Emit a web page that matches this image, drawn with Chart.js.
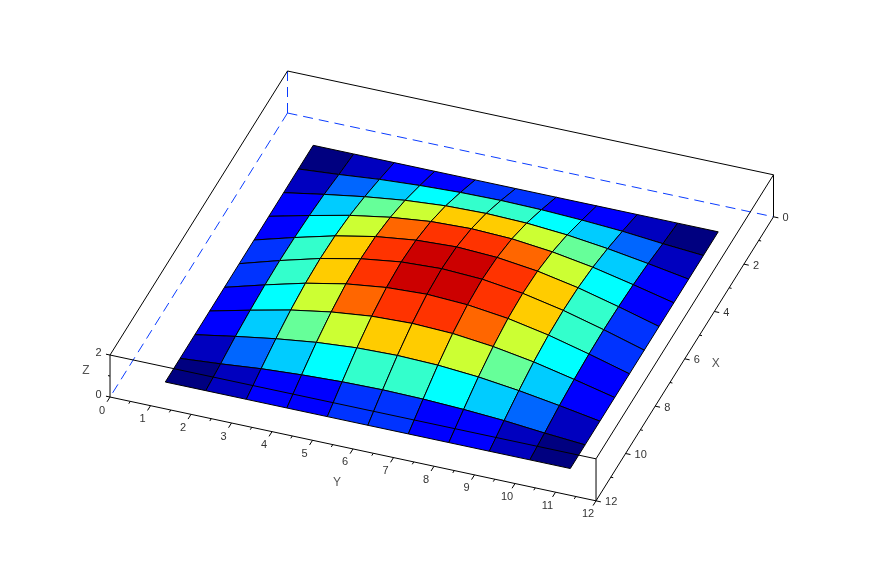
<!DOCTYPE html>
<html>
<head>
<meta charset="utf-8">
<style>
  html, body { margin: 0; padding: 0; background: #fff; }
  canvas { display: block; }
</style>
</head>
<body>
<canvas id="surface" width="884" height="572"></canvas>

<script src="https://cdn.jsdelivr.net/npm/chart.js"></script>

<script>
  // axis ticks and node positions, in data units
  const xMajorTicks = [0, 2, 4, 6, 8, 10, 12];
  const xMinorTicks = [1, 3, 5, 7, 9, 11];
  const yMajorTicks = [0, 1, 2, 3, 4, 5, 6, 7, 8, 9, 10, 11, 12];
  const yMinorTicks = [0.5, 1.5, 2.5, 3.5, 4.5, 5.5, 6.5, 7.5, 8.5, 9.5, 10.5, 11.5];
  const zMajorTicks = [0, 2];
  const zMinorTicks = [1];
  const xNodes = [1, 2, 3, 4, 5, 6, 7, 8, 9, 10, 11];
  const yNodes = [1, 2, 3, 4, 5, 6, 7, 8, 9, 10, 11];

  // surface height at each node, rows follow xNodes, columns follow yNodes
  const zValues = [
    [0, 0, 0, 0, 0, 0, 0, 0, 0, 0, 0],
    [0, 0.15, 0.33, 0.45, 0.53, 0.56, 0.53, 0.45, 0.33, 0.15, 0],
    [0, 0.33, 0.63, 0.87, 1.02, 1.07, 1.02, 0.87, 0.63, 0.33, 0],
    [0, 0.45, 0.87, 1.19, 1.40, 1.47, 1.40, 1.19, 0.87, 0.45, 0],
    [0, 0.53, 1.02, 1.40, 1.64, 1.73, 1.64, 1.40, 1.02, 0.53, 0],
    [0, 0.56, 1.07, 1.47, 1.73, 1.82, 1.73, 1.47, 1.07, 0.56, 0],
    [0, 0.53, 1.02, 1.40, 1.64, 1.73, 1.64, 1.40, 1.02, 0.53, 0],
    [0, 0.45, 0.87, 1.19, 1.40, 1.47, 1.40, 1.19, 0.87, 0.45, 0],
    [0, 0.33, 0.63, 0.87, 1.02, 1.07, 1.02, 0.87, 0.63, 0.33, 0],
    [0, 0.15, 0.33, 0.45, 0.53, 0.56, 0.53, 0.45, 0.33, 0.15, 0],
    [0, 0, 0, 0, 0, 0, 0, 0, 0, 0, 0]
  ];

  // colour step of each facet
  const cellLevels = [
    [0, 1, 2, 2, 3, 3, 2, 2, 1, 0],
    [1, 4, 5, 6, 7, 7, 6, 5, 4, 1],
    [2, 5, 8, 9, 10, 10, 9, 8, 5, 2],
    [2, 6, 9, 11, 12, 12, 11, 9, 6, 2],
    [3, 7, 10, 12, 13, 13, 12, 10, 7, 3],
    [3, 7, 10, 12, 13, 13, 12, 10, 7, 3],
    [2, 6, 9, 11, 12, 12, 11, 9, 6, 2],
    [2, 5, 8, 9, 10, 10, 9, 8, 5, 2],
    [1, 4, 5, 6, 7, 7, 6, 5, 4, 1],
    [0, 1, 2, 2, 3, 3, 2, 2, 1, 0]
  ];

  const palette = ['#000080', '#0000bf', '#0000ff', '#0033ff', '#0066ff', '#00ccff', '#00ffff',
    '#33ffcc', '#66ff99', '#ccff33', '#ffcc00', '#ff6600', '#ff3300', '#cc0000'];

  // fixed camera: the box is drawn as a parallel projection
  const view = { ox: 287.5, oy: 113, xx: -14.79, xy: 23.67, yx: 40.5, yy: 8.65, zy: -21 };

  function project(x, y, z) {
    return {
      x: view.ox + x * view.xx + y * view.yx,
      y: view.oy + x * view.xy + y * view.yy + z * view.zy
    };
  }

  function path(points, color, width, dash) {
    return {
      data: points.map(p => project(p[0], p[1], p[2])),
      borderColor: color,
      borderWidth: width,
      borderDash: dash || [],
      pointRadius: 0,
      showLine: true,
      fill: false,
      clip: false
    };
  }

  function build_datasets() {
    const sets = [];

    // hidden box edges
    const blue = '#0a3cff';
    sets.push(path([[0, 0, 2], [0, 0, 0]], blue, 1, [10, 6]));
    sets.push(path([[0, 0, 0], [12, 0, 0]], blue, 1, [10, 6]));
    sets.push(path([[0, 0, 0], [0, 12, 0]], blue, 1, [10, 6]));

    // facets, back to front
    for (let i = 0; i < xNodes.length - 1; i++) {
      for (let j = 0; j < yNodes.length - 1; j++) {
        const corners = [
          [xNodes[i], yNodes[j], zValues[i][j]],
          [xNodes[i], yNodes[j + 1], zValues[i][j + 1]],
          [xNodes[i + 1], yNodes[j + 1], zValues[i + 1][j + 1]],
          [xNodes[i + 1], yNodes[j], zValues[i + 1][j]],
          [xNodes[i], yNodes[j], zValues[i][j]]
        ];
        const cell = path(corners, '#000', 1);
        cell.backgroundColor = palette[cellLevels[i][j]];
        cell.fill = 'shape';
        sets.push(cell);
      }
    }

    // box outline
    sets.push(path([[12, 0, 0], [12, 0, 2], [0, 0, 2], [0, 12, 2], [12, 12, 2], [12, 0, 2]], '#000', 1));
    sets.push(path([[12, 0, 0], [12, 12, 0], [0, 12, 0], [0, 12, 2]], '#000', 1));
    sets.push(path([[12, 12, 0], [12, 12, 2]], '#000', 1));

    // tick marks
    yMajorTicks.forEach(y => sets.push(path([[12, y, 0], [12.2, y, 0]], '#000', 1)));
    yMinorTicks.forEach(y => sets.push(path([[12, y, 0], [12.1, y, 0]], '#000', 1)));
    xMajorTicks.forEach(x => sets.push(path([[x, 12, 0], [x, 12.12, 0]], '#000', 1)));
    xMinorTicks.forEach(x => sets.push(path([[x, 12, 0], [x, 12.06, 0]], '#000', 1)));
    zMajorTicks.forEach(z => sets.push(path([[12, 0, z], [12, -0.1, z]], '#000', 1)));
    zMinorTicks.forEach(z => sets.push(path([[12, 0, z], [12, -0.05, z]], '#000', 1)));

    // the library draws the first dataset last
    return sets.reverse();
  }

  // tick labels and axis names, placed through the chart scales
  const axisText = {
    id: 'axisText',
    afterDraw(chart) {
      const { ctx, scales } = chart;
      const put = (text, p, dx, dy, align, color, size) => {
        ctx.font = size + 'px "Liberation Sans"';
        ctx.fillStyle = color;
        ctx.textAlign = align;
        ctx.textBaseline = 'middle';
        ctx.fillText(text, scales.x.getPixelForValue(p.x) + dx, scales.y.getPixelForValue(p.y) + dy);
      };
      ctx.save();
      xMajorTicks.forEach(t => put(String(t), project(t, 12, 0), 9, 1.5, 'left', '#333', 11));
      yMajorTicks.forEach(t => put(String(t), project(12, t, 0), -8, 13.5, 'center', '#333', 11));
      zMajorTicks.forEach(t => put(String(t), project(12, 0, t), -11.5, -2.5, 'center', '#333', 11));
      put('X', project(6, 12, 0), 31, 5, 'center', '#555', 12);
      put('Y', project(12, 6, 0), -16, 34, 'center', '#555', 12);
      put('Z', project(12, 0, 1), -24, -5, 'center', '#555', 12);
      ctx.restore();
    }
  };

  new Chart(document.getElementById('surface'), {
    type: 'scatter',
    data: { datasets: build_datasets() },
    options: {
      responsive: false,
      animation: false,
      layout: { padding: 0 },
      plugins: { legend: { display: false }, tooltip: { enabled: false } },
      scales: {
        x: { type: 'linear', display: false, min: 0, max: 884 },
        y: { type: 'linear', display: false, min: 0, max: 572, reverse: true }
      }
    },
    plugins: [axisText]
  });
</script>
</body>
</html>
